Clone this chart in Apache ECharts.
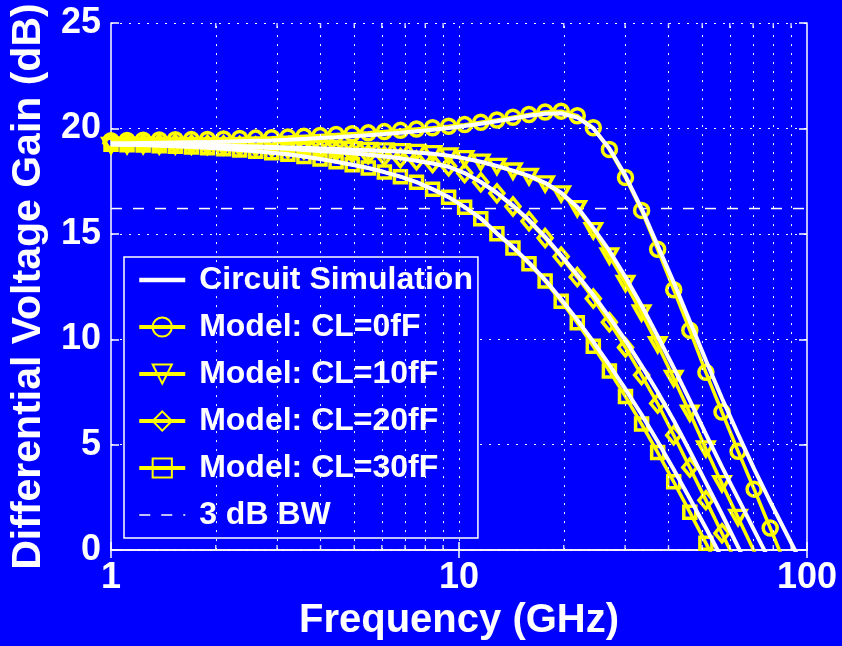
<!DOCTYPE html>
<html><head><meta charset="utf-8">
<script src="https://cdn.jsdelivr.net/npm/echarts@6/dist/echarts.min.js"></script>
<style>html,body{margin:0;padding:0;background:#0000ff;}#c{width:842px;height:646px;}</style>
</head><body><div id="c"></div>
<script>
// Frequency grid (GHz) of the plotted points
const freqGHz = [1.000, 1.112, 1.237, 1.376, 1.530, 1.702, 1.893, 2.106, 2.342, 2.605, 2.897, 3.223, 3.584, 3.987, 4.434, 4.932, 5.486, 6.102, 6.787, 7.549, 8.395, 9.338, 10.38, 11.55, 12.85, 14.29, 15.89, 17.68, 19.66, 21.87, 24.32, 27.05, 30.09, 33.47, 37.23, 41.40, 46.05, 51.22, 56.97, 63.37, 70.47, 78.39, 87.19, 96.97];

// Model curves (dB)
const modelCL0 = [19.42, 19.43, 19.44, 19.45, 19.46, 19.47, 19.48, 19.5, 19.52, 19.54, 19.56, 19.59, 19.63, 19.67, 19.71, 19.75, 19.79, 19.85, 19.91, 19.97, 20.03, 20.1, 20.18, 20.29, 20.4, 20.53, 20.66, 20.78, 20.82, 20.6, 20.03, 19.0, 17.67, 16.11, 14.27, 12.35, 10.43, 8.43, 6.55, 4.69, 2.89, 1.05, -0.8, -2.6];
const modelCL10 = [19.2, 19.2, 19.2, 19.19, 19.19, 19.18, 19.17, 19.16, 19.15, 19.14, 19.12, 19.1, 19.08, 19.05, 19.02, 18.99, 18.96, 18.93, 18.9, 18.86, 18.8, 18.7, 18.57, 18.4, 18.2, 17.98, 17.72, 17.37, 16.9, 16.2, 15.15, 13.95, 12.65, 11.25, 9.75, 8.15, 6.5, 4.8, 3.15, 1.55, -0.05, -1.6, -3.1, -4.6];
const modelCL20 = [19.3, 19.29, 19.28, 19.27, 19.26, 19.24, 19.22, 19.2, 19.17, 19.14, 19.1, 19.05, 19.0, 18.95, 18.9, 18.84, 18.77, 18.69, 18.6, 18.49, 18.36, 18.2, 17.88, 17.45, 16.92, 16.3, 15.6, 14.8, 13.92, 12.95, 11.93, 10.81, 9.61, 8.3, 6.95, 5.45, 3.92, 2.37, 0.8, -0.78, -2.3, -3.8, -5.3, -6.8];
const modelCL30 = [19.25, 19.23, 19.21, 19.18, 19.15, 19.12, 19.08, 19.03, 18.98, 18.92, 18.85, 18.77, 18.67, 18.55, 18.42, 18.28, 18.12, 17.93, 17.71, 17.45, 17.12, 16.74, 16.26, 15.72, 15.0, 14.33, 13.58, 12.76, 11.8, 10.78, 9.67, 8.5, 7.28, 5.98, 4.63, 3.24, 1.8, 0.33, -1.17, -2.7, -4.2, -5.7, -7.2, -8.7];

// Circuit simulation curves (dB)
const simCL0 = [19.3, 19.3, 19.31, 19.32, 19.33, 19.34, 19.35, 19.37, 19.39, 19.41, 19.43, 19.46, 19.5, 19.54, 19.58, 19.63, 19.68, 19.74, 19.8, 19.87, 19.94, 20.02, 20.11, 20.22, 20.34, 20.47, 20.6, 20.7, 20.72, 20.52, 20.0, 19.05, 17.75, 16.2, 14.45, 12.7, 10.85, 9.0, 7.2, 5.5, 3.85, 2.3, 0.8, -0.7];
const simCL10 = [19.25, 19.24, 19.23, 19.22, 19.21, 19.2, 19.19, 19.18, 19.16, 19.14, 19.12, 19.1, 19.08, 19.05, 19.02, 18.99, 18.96, 18.93, 18.9, 18.86, 18.8, 18.71, 18.58, 18.42, 18.22, 18.0, 17.75, 17.42, 16.95, 16.27, 15.27, 14.2, 12.95, 11.6, 10.15, 8.65, 7.1, 5.5, 3.95, 2.45, 0.95, -0.55, -2.05, -3.55];
const simCL20 = [19.25, 19.24, 19.23, 19.22, 19.21, 19.2, 19.18, 19.16, 19.14, 19.11, 19.07, 19.03, 18.98, 18.93, 18.88, 18.82, 18.75, 18.67, 18.58, 18.47, 18.34, 18.18, 17.88, 17.46, 16.95, 16.34, 15.65, 14.86, 13.97, 13.05, 12.1, 11.05, 9.95, 8.75, 7.5, 6.15, 4.7, 3.2, 1.7, 0.15, -1.4, -2.95, -4.5, -6.05];
const simCL30 = [19.25, 19.23, 19.21, 19.18, 19.15, 19.12, 19.08, 19.03, 18.98, 18.92, 18.85, 18.77, 18.67, 18.55, 18.42, 18.28, 18.12, 17.93, 17.71, 17.45, 17.12, 16.74, 16.27, 15.74, 15.03, 14.37, 13.63, 12.82, 11.9, 10.92, 9.88, 8.78, 7.63, 6.43, 5.15, 3.82, 2.45, 1.05, -0.38, -1.85, -3.35, -4.85, -6.35, -7.85];

// 3 dB bandwidth reference level (dB)
const bwLevel = [16.2, 16.2];
const bwFreq = [1, 100];

// Axis ticks
const xMinorTicks = [2, 3, 4, 5, 6, 7, 8, 9, 20, 30, 40, 50, 60, 70, 80, 90];
const xGridLines = [2, 3, 4, 5, 6, 7, 8, 9, 10, 20, 30, 40, 50, 60, 70, 80, 90];
const yTickValues = [0, 5, 10, 15, 20, 25];

const legendNames = ['Circuit Simulation', 'Model: CL=0fF', 'Model: CL=10fF', 'Model: CL=20fF', 'Model: CL=30fF', '3 dB BW'];

const FONT = 'Liberation Sans, Arial, Helvetica, sans-serif';
const YEL = '#ffff00';
const WHITE = '#ffffff';
const BLUE = '#0000ff';

function pairs(xs, ys) { return xs.map((x, i) => [x, ys[i]]); }

function modelSeries(name, ys, symbol, size, rotate) {
  return {
    type: 'line', name: name, data: pairs(freqGHz, ys), z: 3,
    symbol: symbol, symbolSize: size, symbolRotate: rotate || 0, showSymbol: true,
    lineStyle: { color: YEL, width: 3.5 },
    itemStyle: { color: 'rgba(0,0,255,0)', borderColor: YEL, borderWidth: 3.5 },
    emphasis: { disabled: true }, clip: true, animation: false
  };
}
function simSeries(ys) {
  return {
    type: 'line', name: 'Circuit Simulation', data: pairs(freqGHz, ys), z: 4,
    symbol: 'circle', showSymbol: false, symbolSize: 0,
    lineStyle: { color: WHITE, width: 4 },
    itemStyle: { color: 'rgba(0,0,0,0)', borderWidth: 0 },
    emphasis: { disabled: true }, clip: true, animation: false
  };
}

const axisLabelStyle = { color: WHITE, fontSize: 36, fontWeight: 'bold', fontFamily: FONT };

const legendLineWidths = [4.5, 4, 4, 4, 4, 1.5];
const legendData = legendNames.map((n, i) => ({ name: n, lineStyle: { width: legendLineWidths[i] } }));

const option = {
  backgroundColor: BLUE,
  animation: false,
  grid: { left: 110, right: 35, top: 23, bottom: 91, containLabel: false },
  xAxis: [
    {
      type: 'log', logBase: 10, min: 1, max: 100, position: 'bottom',
      axisLine: { show: true, lineStyle: { color: WHITE, width: 1.5 } },
      axisTick: { show: true, inside: true, length: 8, lineStyle: { color: WHITE, width: 1.5 } },
      axisLabel: Object.assign({ margin: 10 }, axisLabelStyle),
      splitLine: { show: false }, minorTick: { show: false },
      name: 'Frequency (GHz)', nameLocation: 'middle', nameGap: 44,
      nameTextStyle: { color: WHITE, fontSize: 40, fontWeight: 'bold', fontFamily: FONT }
    },
    {
      type: 'log', logBase: 10, min: 1, max: 100, position: 'top',
      axisLine: { show: true, lineStyle: { color: WHITE, width: 1.5 } },
      axisTick: { show: true, inside: true, length: 8, lineStyle: { color: WHITE, width: 1.5 } },
      axisLabel: { show: false }, splitLine: { show: false }
    }
  ],
  yAxis: [
    {
      type: 'value', min: 0, max: 25, interval: 5, position: 'left',
      axisLine: { show: true, lineStyle: { color: WHITE, width: 1.5 } },
      axisTick: { show: true, inside: true, length: 8, lineStyle: { color: WHITE, width: 1.5 } },
      axisLabel: Object.assign({ margin: 10 }, axisLabelStyle),
      splitLine: { show: true, lineStyle: { color: WHITE, width: 1, type: [2, 7] } },
      name: 'Differential Voltage Gain (dB)', nameLocation: 'middle', nameGap: 62, nameRotate: 90,
      nameTextStyle: { color: WHITE, fontSize: 41, fontWeight: 'bold', fontFamily: FONT }
    },
    {
      type: 'value', min: 0, max: 25, interval: 5, position: 'right',
      axisLine: { show: true, lineStyle: { color: WHITE, width: 1.5 } },
      axisTick: { show: true, inside: true, length: 8, lineStyle: { color: WHITE, width: 1.5 } },
      axisLabel: { show: false }, splitLine: { show: false }
    }
  ],
  legend: {
    data: legendData,
    formatter: function (n) { return ' ' + n; },
    orient: 'vertical', left: 124, top: 257,
    padding: [7, 5, 7, 13],
    itemWidth: 46, itemHeight: 24, itemGap: 15,
    backgroundColor: BLUE, borderColor: WHITE, borderWidth: 1.5, borderRadius: 0,
    selectedMode: false,
    textStyle: { color: WHITE, fontSize: 32, fontWeight: 'bold', fontFamily: FONT }
  },
  series: [
    {
      type: 'line', name: '3 dB BW', data: pairs(bwFreq, bwLevel), z: 2,
      symbol: 'circle', showSymbol: false, symbolSize: 0,
      lineStyle: { color: WHITE, width: 1.5, type: [11, 11] },
      itemStyle: { color: 'rgba(0,0,0,0)', borderWidth: 0 },
      emphasis: { disabled: true }, animation: false,
      markLine: {
        silent: true, symbol: ['none', 'none'], label: { show: false }, animation: false,
        lineStyle: { color: WHITE, width: 1, type: [2, 7] },
        emphasis: { disabled: true },
        data: xGridLines.map(v => ({ xAxis: v }))
      }
    },
    modelSeries('Model: CL=0fF', modelCL0, 'circle', 14, 0),
    modelSeries('Model: CL=10fF', modelCL10, 'triangle', [16, 14], 180),
    modelSeries('Model: CL=20fF', modelCL20, 'diamond', [14, 17], 0),
    modelSeries('Model: CL=30fF', modelCL30, 'rect', 12, 0),
    simSeries(simCL0), simSeries(simCL10), simSeries(simCL20), simSeries(simCL30),
    {
      type: 'scatter', name: 'minorTickBottom', data: xMinorTicks.map(v => [v, yTickValues[0]]),
      symbol: 'rect', symbolSize: [1.5, 5], symbolOffset: [0, -2.5], clip: false, silent: true, z: 5,
      itemStyle: { color: WHITE }, animation: false
    },
    {
      type: 'scatter', name: 'minorTickTop', data: xMinorTicks.map(v => [v, yTickValues[yTickValues.length - 1]]),
      symbol: 'rect', symbolSize: [1.5, 5], symbolOffset: [0, 2.5], clip: false, silent: true, z: 5,
      itemStyle: { color: WHITE }, animation: false
    }
  ]
};

const chart = echarts.init(document.getElementById('c'), null, { renderer: 'canvas' });
chart.setOption(option);
</script>
</body></html>
